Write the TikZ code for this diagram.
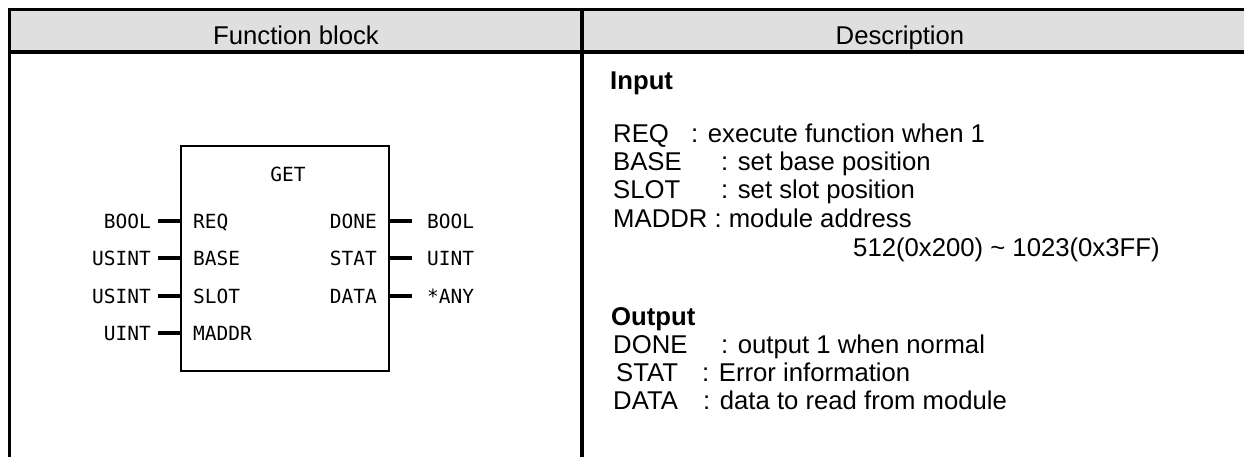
\documentclass[tikz,border=0pt]{standalone}
\usepackage{fontspec}
\setmainfont{Liberation Sans}
\newfontfamily\fbfont{DejaVu Sans Mono}
\definecolor{hdrgray}{HTML}{DFDFDF}
\begin{document}
\begin{tikzpicture}[x=1pt,y=-1pt,
  frame/.style={line width=3.6pt},
  hdr/.style={font=\fontsize{25.7}{28}\selectfont, anchor=base, inner sep=0},
  desc/.style={font=\fontsize{25.7}{28}\selectfont, anchor=base west, inner sep=0},
  deschead/.style={font=\fontsize{25.7}{28}\selectfont\bfseries, anchor=base west, inner sep=0},
  fbbox/.style={draw, line width=2.2pt, minimum width=208pt, minimum height=225pt, inner sep=0},
  lbl/.style={font=\fbfont\fontsize{19.5}{20}\selectfont, inner sep=0},
  pinline/.style={line width=3.2pt}]
\useasboundingbox (0,0) rectangle (1244,457);
% header
\fill[hdrgray] (9.5,9.5) rectangle (1244,52);
\draw[frame] (7.7,9.5) -- (1244,9.5);
\draw[frame] (7.7,52) -- (1244,52);
\draw[frame] (9.5,7.7) -- (9.5,457);
\draw[frame] (582,7.7) -- (582,457);
\node[hdr] (h1) at (296,45) {Function block};
\node[hdr] (h2) at (900,45) {Description};
% function block
\node[fbbox] (box) at (285,258.5) {};
\node[lbl, anchor=base] (get) at (288,182) {GET};
% inputs
\foreach \y/\t/\p in {221/BOOL/REQ, 258/USINT/BASE, 296/USINT/SLOT, 333/UINT/MADDR}{
  \node[lbl, anchor=base east] (t\p) at (151,\y+7) {\t};
  \node[lbl, anchor=base west] (n\p) at (193,\y+7) {\p};
  \coordinate (c\p) at (158,\y);
  \draw[pinline] (c\p) -- (c\p -| box.west);
}
% outputs
\foreach \y/\t/\p in {221/BOOL/DONE, 258/UINT/STAT, 296/*ANY/DATA}{
  \node[lbl, anchor=base east] (n\p) at (377,\y+7) {\p};
  \node[lbl, anchor=base west] (t\p) at (427,\y+7) {\t};
  \coordinate (c\p) at (412,\y);
  \draw[pinline] (c\p -| box.east) -- (c\p);
}
% description
\node[deschead] (inp) at (610,90) {Input};
\node[desc] (dreq) at (613,143) {REQ};
\node[desc] (dreqt) at (691,143) {: execute function when 1};
\node[desc] (dbase) at (613,171) {BASE};
\node[desc] (dbaset) at (721,171) {: set base position};
\node[desc] (dslot) at (613,199) {SLOT};
\node[desc] (dslott) at (721,199) {: set slot position};
\node[desc] (dmaddr) at (613,227) {MADDR : module address};
\node[desc] (drange) at (853,256) {512(0x200) \textasciitilde{} 1023(0x3FF)};
\node[deschead] (outp) at (611,325) {Output};
\node[desc] (ddone) at (613,353) {DONE};
\node[desc] (ddonet) at (721,353) {: output 1 when normal};
\node[desc] (dstat) at (616,381) {STAT};
\node[desc] (dstatt) at (702,381) {: Error information};
\node[desc] (ddata) at (613,409) {DATA};
\node[desc] (ddatat) at (703,409) {: data to read from module};
\end{tikzpicture}
\end{document}
